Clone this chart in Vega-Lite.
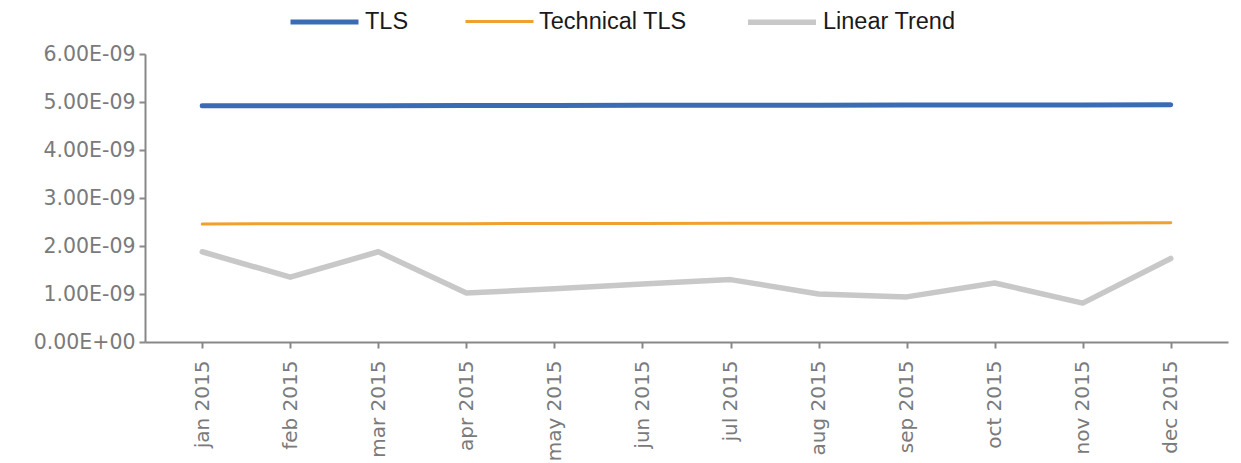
{
  "$schema": "https://vega.github.io/schema/vega-lite/v6.json",
  "width": 1083,
  "height": 288,
  "autosize": {"type": "none"},
  "padding": {"left": 145, "top": 54, "right": 13, "bottom": 121},
  "background": "white",
  "config": {"view": {"stroke": null}, "font": "Liberation Sans"},
  "data": {"values": [
    {"month": "jan 2015", "series": "TLS", "value": 4.92e-9},
    {"month": "feb 2015", "series": "TLS", "value": 4.922e-9},
    {"month": "mar 2015", "series": "TLS", "value": 4.924e-9},
    {"month": "apr 2015", "series": "TLS", "value": 4.926e-9},
    {"month": "may 2015", "series": "TLS", "value": 4.928e-9},
    {"month": "jun 2015", "series": "TLS", "value": 4.93e-9},
    {"month": "jul 2015", "series": "TLS", "value": 4.932e-9},
    {"month": "aug 2015", "series": "TLS", "value": 4.934e-9},
    {"month": "sep 2015", "series": "TLS", "value": 4.936e-9},
    {"month": "oct 2015", "series": "TLS", "value": 4.938e-9},
    {"month": "nov 2015", "series": "TLS", "value": 4.94e-9},
    {"month": "dec 2015", "series": "TLS", "value": 4.942e-9},
    {"month": "jan 2015", "series": "Technical TLS", "value": 2.46e-9},
    {"month": "feb 2015", "series": "Technical TLS", "value": 2.462e-9},
    {"month": "mar 2015", "series": "Technical TLS", "value": 2.464e-9},
    {"month": "apr 2015", "series": "Technical TLS", "value": 2.466e-9},
    {"month": "may 2015", "series": "Technical TLS", "value": 2.468e-9},
    {"month": "jun 2015", "series": "Technical TLS", "value": 2.47e-9},
    {"month": "jul 2015", "series": "Technical TLS", "value": 2.472e-9},
    {"month": "aug 2015", "series": "Technical TLS", "value": 2.474e-9},
    {"month": "sep 2015", "series": "Technical TLS", "value": 2.476e-9},
    {"month": "oct 2015", "series": "Technical TLS", "value": 2.478e-9},
    {"month": "nov 2015", "series": "Technical TLS", "value": 2.48e-9},
    {"month": "dec 2015", "series": "Technical TLS", "value": 2.482e-9},
    {"month": "jan 2015", "series": "Linear Trend", "value": 1.88e-9},
    {"month": "feb 2015", "series": "Linear Trend", "value": 1.35e-9},
    {"month": "mar 2015", "series": "Linear Trend", "value": 1.88e-9},
    {"month": "apr 2015", "series": "Linear Trend", "value": 1.02e-9},
    {"month": "may 2015", "series": "Linear Trend", "value": 1.11e-9},
    {"month": "jun 2015", "series": "Linear Trend", "value": 1.21e-9},
    {"month": "jul 2015", "series": "Linear Trend", "value": 1.3e-9},
    {"month": "aug 2015", "series": "Linear Trend", "value": 1.0e-9},
    {"month": "sep 2015", "series": "Linear Trend", "value": 0.94e-9},
    {"month": "oct 2015", "series": "Linear Trend", "value": 1.23e-9},
    {"month": "nov 2015", "series": "Linear Trend", "value": 0.81e-9},
    {"month": "dec 2015", "series": "Linear Trend", "value": 1.74e-9}
  ]},
  "mark": {"type": "line", "strokeCap": "round", "strokeJoin": "round"},
  "encoding": {
    "x": {
      "field": "month", "type": "ordinal", "sort": null,
      "scale": {"type": "point", "padding": 0.65},
      "axis": {
        "title": null, "labelAngle": -90, "labelFont": "DejaVu Sans", "labelFontSize": 20, "labelColor": "#7a7a7a",
        "labelPadding": 12, "domainColor": "#888888", "domainWidth": 2,
        "tickColor": "#888888", "tickWidth": 2, "tickSize": 6
      }
    },
    "y": {
      "field": "value", "type": "quantitative",
      "scale": {"domain": [0, 6e-9], "nice": false},
      "axis": {
        "title": null, "grid": false, "values": [0, 1e-9, 2e-9, 3e-9, 4e-9, 5e-9, 6e-9],
        "labelExpr": "datum.value == 0 ? '0.00E+00' : format(datum.value * 1e9, '.2f') + 'E-09'",
        "labelFont": "DejaVu Sans", "labelFontSize": 20.5, "labelColor": "#7a7a7a", "labelPadding": 4,
        "domainColor": "#888888", "domainWidth": 2,
        "tickColor": "#888888", "tickWidth": 2, "tickSize": 6
      }
    },
    "color": {
      "field": "series", "type": "nominal",
      "scale": {"domain": ["TLS", "Technical TLS", "Linear Trend"], "range": ["#3a6cb4", "#f0a02c", "#c8c8c8"]},
      "legend": {
        "title": null, "orient": "none", "direction": "horizontal",
        "legendX": 143, "legendY": -69,
        "symbolType": "stroke", "symbolSize": 4624,
        "labelFontSize": 23.5, "labelColor": "#1a1a1a", "columnPadding": 50, "labelOffset": 4
      }
    },
    "strokeWidth": {
      "field": "series", "type": "nominal",
      "scale": {"type": "ordinal", "domain": ["TLS", "Technical TLS", "Linear Trend"], "range": [5, 3, 5.5]},
      "legend": {
        "title": null, "orient": "none", "direction": "horizontal",
        "legendX": 143, "legendY": -69,
        "symbolType": "stroke", "symbolSize": 4624,
        "labelFontSize": 23.5, "labelColor": "#1a1a1a", "columnPadding": 50, "labelOffset": 4
      }
    }
  }
}
